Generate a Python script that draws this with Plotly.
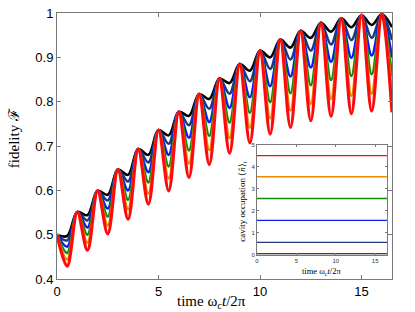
import plotly.graph_objects as go

# ---- data ----
peak_t = [0, 1, 2, 3, 4, 5, 6, 7, 8, 9, 10, 11, 12, 13, 14, 15, 16]
trough_t = [0.5, 1.5, 2.5, 3.5, 4.5, 5.5, 6.5, 7.5, 8.5, 9.5, 10.5, 11.5, 12.5, 13.5, 14.5, 15.5, 16.5]

peak_F = [0.500, 0.551, 0.599, 0.647, 0.693, 0.736, 0.777, 0.817, 0.852, 0.885,
          0.915, 0.940, 0.960, 0.978, 0.988, 0.995, 0.997]

trough_black = [0.497, 0.544, 0.590, 0.635, 0.680, 0.724, 0.768, 0.806, 0.842, 0.870,
                0.900, 0.922, 0.944, 0.958, 0.968, 0.973, 0.968]
trough_navy = [0.487, 0.532, 0.577, 0.620, 0.663, 0.705, 0.747, 0.784, 0.818, 0.846,
               0.874, 0.895, 0.915, 0.929, 0.939, 0.944, 0.939]
trough_blue = [0.473, 0.516, 0.559, 0.600, 0.641, 0.680, 0.719, 0.754, 0.786, 0.810,
               0.835, 0.857, 0.877, 0.890, 0.899, 0.904, 0.899]
trough_green = [0.459, 0.500, 0.541, 0.579, 0.618, 0.654, 0.690, 0.723, 0.753, 0.775,
                0.799, 0.819, 0.837, 0.849, 0.858, 0.862, 0.857]
trough_orange = [0.444, 0.482, 0.521, 0.557, 0.593, 0.627, 0.660, 0.691, 0.718, 0.741,
                 0.762, 0.780, 0.795, 0.806, 0.813, 0.818, 0.814]
trough_red = [0.429, 0.465, 0.502, 0.535, 0.569, 0.599, 0.629, 0.658, 0.684, 0.707,
              0.727, 0.742, 0.757, 0.767, 0.773, 0.779, 0.776]

# inset: cavity occupation <n>_t (nearly constant in time)
inset_t = [0, 16.5]
occ_black = [0.03, 0.03]
occ_navy = [0.55, 0.55]
occ_blue = [1.55, 1.55]
occ_green = [2.55, 2.55]
occ_orange = [3.54, 3.54]
occ_red = [4.5, 4.5]

x_ticks = [0, 5, 10, 15]
y_ticks = [0.4, 0.5, 0.6, 0.7, 0.8, 0.9, 1.0]
y_ticktext = ["0.4", "0.5", "0.6", "0.7", "0.8", "0.9", "1"]
inset_y_ticks = [0, 1, 2, 3, 4, 5]

colors = ["#000000", "#1c3a7c", "#0a1ef0", "#118a11", "#ec8a00", "#ff0a0a"]
troughs = [trough_black, trough_navy, trough_blue, trough_green, trough_orange, trough_red]
occs = [occ_black, occ_navy, occ_blue, occ_green, occ_orange, occ_red]
widths = [2.6, 2.6, 2.6, 2.6, 2.6, 3.2]

fig = go.Figure()

for tr, col, w in zip(troughs, colors, widths):
    xs, ys = [], []
    for i in range(len(peak_t)):
        xs.append(peak_t[i]); ys.append(peak_F[i])
        xs.append(trough_t[i]); ys.append(tr[i])
    fig.add_trace(go.Scatter(x=xs, y=ys, mode="lines",
                             line=dict(color=col, width=w, shape="spline", smoothing=1.0),
                             showlegend=False, hoverinfo="skip"))

for oc, col in zip(occs, colors):
    fig.add_trace(go.Scatter(x=inset_t, y=oc, mode="lines", xaxis="x2", yaxis="y2",
                             line=dict(color=col, width=1.3),
                             showlegend=False, hoverinfo="skip"))

axis_gray = "#7a7a7a"
tickfont = dict(family="Liberation Sans, Arial, sans-serif", size=13, color="#000")
serif = "Liberation Serif, Times New Roman, serif"

fig.update_layout(
    width=415, height=312,
    margin=dict(l=57, r=23, t=6, b=33),
    paper_bgcolor="white", plot_bgcolor="white",
    xaxis=dict(range=[0, 16.5], tickvals=x_ticks, ticks="inside", ticklen=4,
               tickcolor=axis_gray, showline=True, linecolor=axis_gray, linewidth=1,
               mirror="ticks", showgrid=False, zeroline=False, tickfont=tickfont),
    yaxis=dict(range=[0.4, 1.0], tickvals=y_ticks, ticktext=y_ticktext, ticks="inside",
               ticklen=4, tickcolor=axis_gray, showline=True, linecolor=axis_gray,
               linewidth=1, mirror="ticks", showgrid=False, zeroline=False,
               tickfont=tickfont),
    xaxis2=dict(domain=[0.597, 0.985], anchor="y2", range=[0, 16.5], tickvals=x_ticks,
                ticks="inside", ticklen=2, tickcolor=axis_gray, showline=True,
                linecolor=axis_gray, linewidth=1, mirror="ticks", showgrid=False,
                zeroline=False, tickfont=dict(family="Liberation Sans, Arial", size=6, color="#333"),
                ticklabelstandoff=0),
    yaxis2=dict(domain=[0.092, 0.505], anchor="x2", range=[0, 5], tickvals=inset_y_ticks,
                ticks="inside", ticklen=2, tickcolor=axis_gray, showline=True,
                linecolor=axis_gray, linewidth=1, mirror="ticks", showgrid=False,
                zeroline=False, tickfont=dict(family="Liberation Sans, Arial", size=6, color="#333")),
    annotations=[
        dict(text="time ω<sub>c</sub><i>t</i>/2π", xref="paper", yref="paper",
             x=0.46, y=-0.088, xanchor="center", yanchor="middle", showarrow=False,
             font=dict(family=serif, size=15, color="#000")),
        dict(text="fidelity ℱ", xref="paper", yref="paper", textangle=-90,
             x=-0.128, y=0.53, xanchor="center", yanchor="middle", showarrow=False,
             font=dict(family=serif, size=15, color="#000")),
        dict(text="cavity occupation ⟨<i>n̂</i>⟩<sub><i>t</i></sub>", xref="paper", yref="paper",
             textangle=-90, x=0.555, y=0.29, xanchor="center", yanchor="middle",
             showarrow=False, font=dict(family=serif, size=9, color="#000")),
        dict(text="time ω<sub>c</sub><i>t</i>/2π", xref="paper", yref="paper",
             x=0.791, y=0.03, xanchor="center", yanchor="middle", showarrow=False,
             font=dict(family=serif, size=8.5, color="#000")),
    ],
)

fig.write_html("out.html", config={"displayModeBar": False},
               post_script="document.body.style.margin='0';document.body.style.overflow='hidden';")
